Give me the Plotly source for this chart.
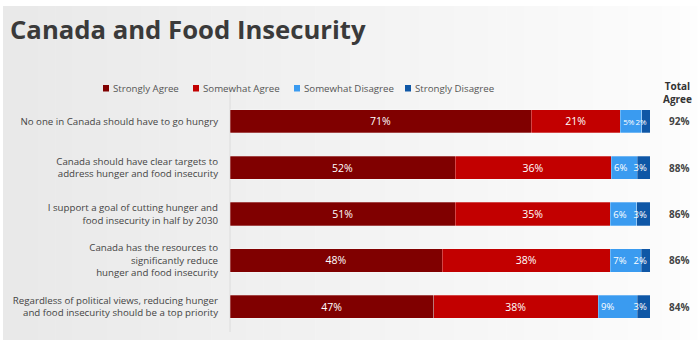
import plotly.graph_objects as go

categories = [
    "No one in Canada should have to go hungry",
    "Canada should have clear targets to<br>address hunger and food insecurity",
    "I support a goal of cutting hunger and<br>food insecurity in half by 2030",
    "Canada has the resources to<br>significantly reduce<br>hunger and food insecurity",
    "Regardless of political views, reducing hunger<br>and food insecurity should be a top priority",
]
series_names = ["Strongly Agree", "Somewhat Agree", "Somewhat Disagree", "Strongly Disagree"]
strongly_agree = [71, 52, 51, 48, 47]
somewhat_agree = [21, 36, 35, 38, 38]
somewhat_disagree = [5, 6, 6, 7, 9]
strongly_disagree = [2, 3, 3, 2, 3]
total_agree = [92, 88, 86, 86, 84]

colors = ["#800000", "#c20000", "#3a9bf0", "#0f57a6"]
series_values = [strongly_agree, somewhat_agree, somewhat_disagree, strongly_disagree]
text_anchor = ["middle", "middle", "start", "end"]
small_sizes = [8, 9.5, 9.5, 9.5, 9.5]
text_size = [10.5, 10.5, small_sizes, small_sizes]

W, H = 700, 350
ML, MR, MT, MB = 230, 50, 98, 20
PW, PH = W - ML - MR, H - MT - MB

def px_x(px):
    return (px - ML) / PW

def px_y(py):
    return (H - MB - py) / PH

fig = go.Figure()
for name, vals, col, anc, ts in zip(series_names, series_values, colors, text_anchor, text_size):
    fig.add_trace(go.Bar(
        y=categories, x=vals, name=name, orientation="h",
        marker=dict(color=col, line=dict(width=0.6, color="rgba(255,255,255,0.45)")),
        text=[f"{v}%" for v in vals], textposition="inside",
        insidetextanchor=anc, textangle=0, constraintext="none",
        textfont=dict(color="white", size=ts, family="Open Sans"),
        hoverinfo="skip", showlegend=False,
    ))

shapes = []
# background gradient (light gray on left fading to white on right)
n = 40
x0p, x1p = 3, 697
for i in range(n):
    a = x0p + (x1p - x0p) * i / n
    b = x0p + (x1p - x0p) * (i + 1) / n + 0.5
    t = i / (n - 1)
    g = int(233 + (253 - 233) * t)
    shapes.append(dict(type="rect", xref="paper", yref="paper", layer="below",
                       x0=px_x(a), x1=px_x(b), y0=px_y(340), y1=px_y(6),
                       fillcolor=f"rgb({g},{g},{g})", line=dict(width=0)))
# axis line
shapes.append(dict(type="line", xref="paper", yref="paper", layer="below",
                   x0=0, x1=0, y0=px_y(332), y1=px_y(85),
                   line=dict(color="#dcdcdc", width=1)))

annotations = []
# legend (small squares + labels)
legend_x = [103, 193, 294, 405]
for name, col, lx in zip(series_names, colors, legend_x):
    shapes.append(dict(type="rect", xref="paper", yref="paper",
                       x0=px_x(lx), x1=px_x(lx + 6), y0=px_y(91.5), y1=px_y(85),
                       fillcolor=col, line=dict(width=0)))
    annotations.append(dict(text=name, xref="paper", yref="paper",
                            x=px_x(lx + 8), y=px_y(88.5), xanchor="left", yanchor="middle",
                            showarrow=False, font=dict(size=9.7, color="#555555", family="Open Sans")))

annotations.append(dict(text="<b>Total<br>Agree</b>", xref="paper", yref="paper",
                        x=px_x(677), y=px_y(92.5), xanchor="center", yanchor="middle",
                        showarrow=False, font=dict(size=10, color="#333333", family="Open Sans")))
for cat, v in zip(categories, total_agree):
    annotations.append(dict(text=f"<b>{v}%</b>", xref="paper", yref="y", x=px_x(679), y=cat,
                            xanchor="center", yanchor="middle", showarrow=False,
                            font=dict(size=10, color="#444444", family="Open Sans")))

fig.update_layout(
    width=W, height=H,
    margin=dict(l=ML, r=MR, t=MT, b=MB),
    barmode="stack", barnorm="percent", bargap=0.5,
    paper_bgcolor="white", plot_bgcolor="rgba(0,0,0,0)",
    font=dict(family="Open Sans", color="#444444"),
    title=dict(text="<b>Canada and Food Insecurity</b>", x=10 / W, xanchor="left",
               xref="container", yref="container", y=1 - 30 / H, yanchor="middle",
               font=dict(size=25.7, color="#3a3a3a", family="Open Sans")),
    showlegend=False,
    xaxis=dict(visible=False, range=[0, 100], fixedrange=True),
    yaxis=dict(categoryorder="array", categoryarray=categories, autorange="reversed",
               showline=False, showgrid=False, zeroline=False, ticks="",
               ticklabelstandoff=11, tickfont=dict(size=9.7, color="#444444")),
    shapes=shapes, annotations=annotations,
)

fig.write_html("out.html")
